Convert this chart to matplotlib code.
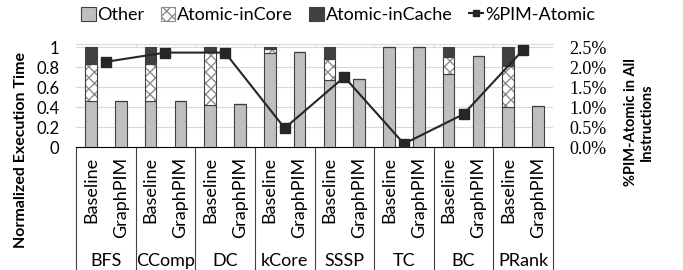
import numpy as np
import matplotlib
matplotlib.use("Agg")
import matplotlib.pyplot as plt
from matplotlib.patches import Patch
from matplotlib.lines import Line2D
import matplotlib.transforms as mtransforms

plt.rcParams['font.family'] = ['Lato', 'DejaVu Sans']

# data
groups = ['BFS', 'CComp', 'DC', 'kCore', 'SSSP', 'TC', 'BC', 'PRank']
configs = ['Baseline', 'GraphPIM']
other = [0.46, 0.46, 0.46, 0.46, 0.42, 0.43, 0.94, 0.95,
         0.67, 0.68, 1.00, 1.00, 0.73, 0.91, 0.40, 0.41]
in_core = [0.37, 0, 0.37, 0, 0.53, 0, 0.04, 0,
           0.21, 0, 0, 0, 0.17, 0, 0.41, 0]
in_cache = [0.17, 0.005, 0.17, 0.005, 0.05, 0.005, 0.02, 0.005,
            0.12, 0.005, 0, 0, 0.10, 0.005, 0.19, 0]
pim_atomic = [2.13, 2.36, 2.36, 0.47, 1.75, 0.08, 0.82, 2.43]

other = np.array(other)
in_core = np.array(in_core)
in_cache = np.array(in_cache)

x = np.arange(len(groups) * len(configs))
gx = np.arange(len(groups)) * 2 + 0.5
w = 0.39
edge = '#404040'

fig = plt.figure(figsize=(6.83, 2.70), dpi=100)
fig.subplots_adjust(left=76/683, right=553/683, bottom=1-147/270, top=1-44/270)
ax = fig.add_subplot(111)

ax.bar(x, other, w, color='#bfbfbf', edgecolor=edge, linewidth=0.8, zorder=3)
ax.bar(x, in_core, w, bottom=other, color='white', edgecolor='#8c8c8c',
       hatch='xxx', linewidth=0, zorder=3)
ax.bar(x, in_core, w, bottom=other, fill=False, edgecolor=edge, linewidth=0.8, zorder=3)
ax.bar(x, in_cache, w, bottom=other + in_core, color='#404040', edgecolor=edge,
       linewidth=0.8, zorder=3)

ax.set_xlim(-0.5, len(x) - 0.5)
ax.set_ylim(0, 1.03)
ax.set_yticks([0, 0.2, 0.4, 0.6, 0.8, 1.0])
ax.set_yticklabels(['0', '0.2', '0.4', '0.6', '0.8', '1'])
ax.tick_params(axis='y', length=0, pad=12, labelsize=12)
ax.set_xticks([])
ax.grid(axis='y', color='#d9d9d9', linewidth=0.8, zorder=0)
ax.set_axisbelow(True)
for s in ['left', 'right']:
    ax.spines[s].set_visible(False)
ax.spines['top'].set_color('#d9d9d9')
ax.spines['bottom'].set_color('black')
ax.spines['bottom'].set_linewidth(0.8)

# small ticks on top edge at group boundaries
bounds = np.arange(len(groups) + 1) * 2 - 0.5
ax.vlines(bounds[1:-1], 1.0, 1.03, color='#d9d9d9', linewidth=0.8, zorder=1)

# multi-level category labels
trans = mtransforms.blended_transform_factory(ax.transData, ax.transAxes)
for i, xi in enumerate(x):
    ax.text(xi, -0.10, configs[i % 2], rotation=90, ha='center', va='top',
            fontsize=13, transform=trans)
for g, name in enumerate(groups):
    ax.text(gx[g], -1.11, name, ha='center', va='center', fontsize=13,
            transform=trans)
for b in bounds:
    ax.plot([b, b], [0, -1.27], color='#404040', linewidth=0.8,
            transform=trans, clip_on=False)

# secondary axis with line
ax2 = ax.twinx()
ax2.plot(gx, pim_atomic, color='#262626', linewidth=1.5, marker='s',
         markersize=6.5, zorder=5)
ax2.set_ylim(0, 2.5 * 1.03)
ax2.set_yticks([0, 0.5, 1.0, 1.5, 2.0, 2.5])
ax2.set_yticklabels(['%.1f%%' % v for v in [0, 0.5, 1.0, 1.5, 2.0, 2.5]],
                    family='Liberation Serif', fontsize=13)
ax2.tick_params(axis='y', length=0, pad=12)
for s in ['left', 'right', 'top', 'bottom']:
    ax2.spines[s].set_visible(False)

fig.text(21/683, 1-150/270, 'Normalized Execution Time', rotation=90,
         ha='center', va='center', fontsize=11.5, fontweight='bold')
fig.text(639/683, 1-122/270, '%PIM-Atomic in All\nInstructions', rotation=90,
         ha='center', va='center', fontsize=10.5, fontweight='bold',
         multialignment='center', linespacing=1.1)

handles = [
    Patch(facecolor='#bfbfbf', edgecolor=edge, linewidth=0.8),
    Patch(facecolor='white', edgecolor='#8c8c8c', hatch='xxx', linewidth=0.8),
    Patch(facecolor='#404040', edgecolor=edge, linewidth=0.8),
    Line2D([0], [0], color='#262626', linewidth=1.5, marker='s', markersize=5),
]
labels = ['Other', 'Atomic-inCore', 'Atomic-inCache', '%PIM-Atomic']
fig.legend(handles, labels, loc='center', bbox_to_anchor=(0.495, 1-15/270),
           ncol=4, frameon=False, fontsize=13, handlelength=0.8,
           handleheight=0.8, handletextpad=0.1, columnspacing=0.9,
           borderaxespad=0)

fig.savefig('out.png', dpi=100)
